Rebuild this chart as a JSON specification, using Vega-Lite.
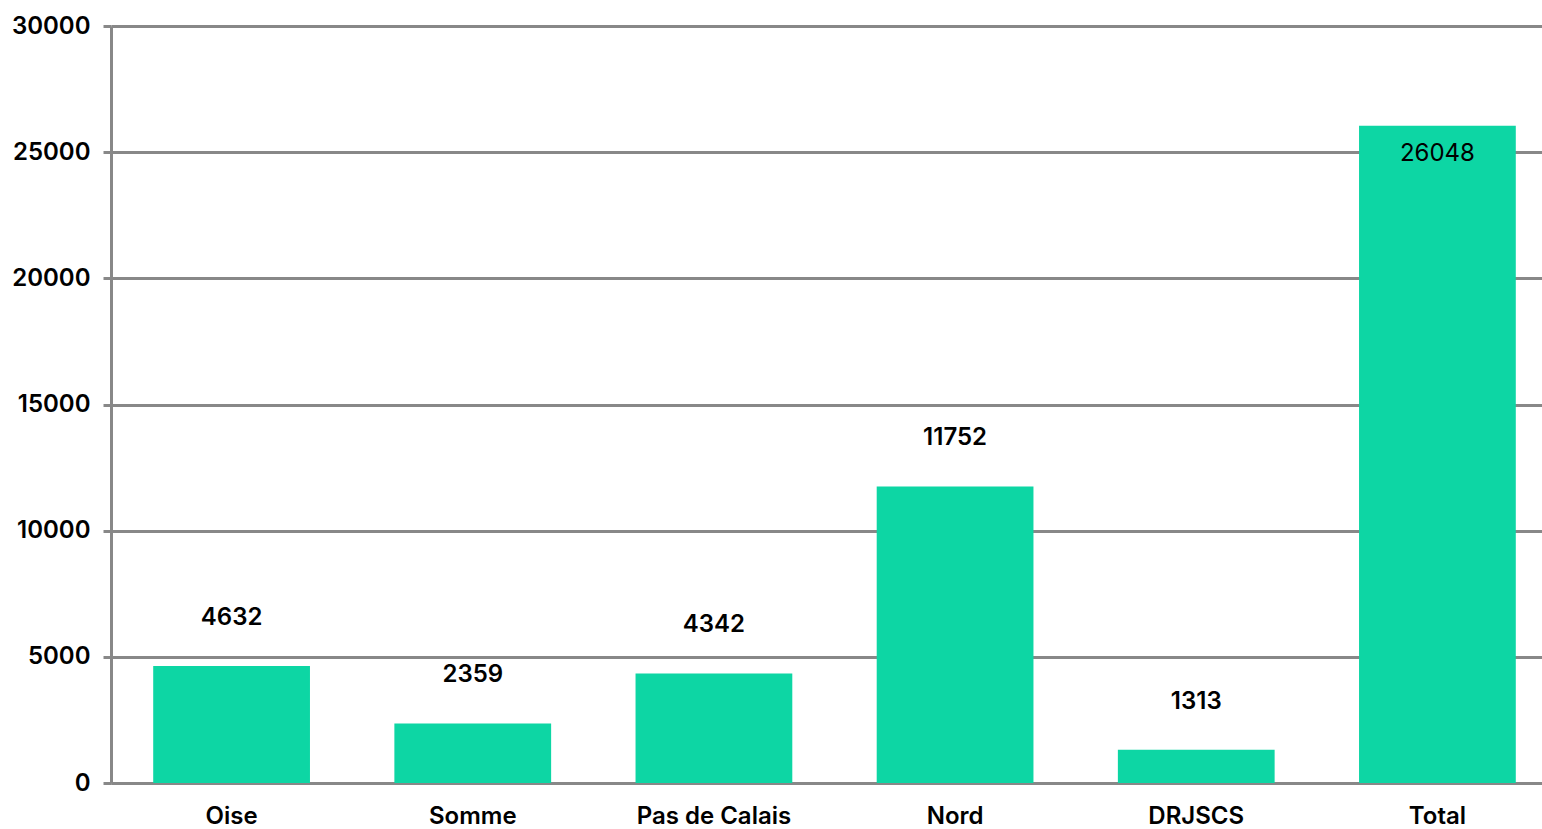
{
  "$schema": "https://vega.github.io/schema/vega-lite/v6.json",
  "autosize": "none",
  "width": 1447,
  "height": 757,
  "padding": {"left": 111, "top": 26, "right": 0, "bottom": 46},
  "background": "white",
  "data": {
    "values": [
      {"region": "Oise", "value": 4632},
      {"region": "Somme", "value": 2359},
      {"region": "Pas de Calais", "value": 4342},
      {"region": "Nord", "value": 11752},
      {"region": "DRJSCS", "value": 1313},
      {"region": "Total", "value": 26048}
    ]
  },
  "config": {
    "view": {"stroke": null},
    "font": "Inter"
  },
  "encoding": {
    "x": {
      "field": "region",
      "type": "nominal",
      "sort": null,
      "scale": {"paddingInner": 0.35, "paddingOuter": 0.175},
      "axis": {
        "title": null,
        "labelAngle": 0,
        "labelFont": "Inter",
        "labelFontSize": 24,
        "labelFontWeight": 600,
        "labelColor": "black",
        "labelPadding": 21,
        "ticks": false,
        "domainColor": "#888888",
        "domainWidth": 3,
        "grid": false
      }
    },
    "y": {
      "field": "value",
      "type": "quantitative",
      "scale": {"domain": [0, 30000], "nice": false},
      "axis": {
        "title": null,
        "values": [0, 5000, 10000, 15000, 20000, 25000, 30000],
        "format": "d",
        "labelFont": "Inter",
        "labelFontSize": 24,
        "labelFontWeight": 600,
        "labelColor": "black",
        "labelPadding": 13,
        "tickSize": 8,
        "tickColor": "#888888",
        "tickWidth": 3,
        "domainColor": "#888888",
        "domainWidth": 3,
        "grid": true,
        "gridColor": "#888888",
        "gridWidth": 3
      }
    }
  },
  "layer": [
    {"mark": {"type": "bar", "color": "#0DD6A4"}},
    {
      "transform": [{"filter": "datum.region != 'Total'"}],
      "mark": {"type": "text", "fontSize": 24, "fontWeight": 600, "color": "black", "dy": -48, "baseline": "middle", "font": "Inter"},
      "encoding": {"text": {"field": "value", "type": "quantitative", "format": "d"}}
    },
    {
      "transform": [{"filter": "datum.region == 'Total'"}],
      "mark": {"type": "text", "fontSize": 24, "fontWeight": 400, "color": "black", "dy": 28, "baseline": "middle", "font": "Inter"},
      "encoding": {"text": {"field": "value", "type": "quantitative", "format": "d"}}
    }
  ]
}
